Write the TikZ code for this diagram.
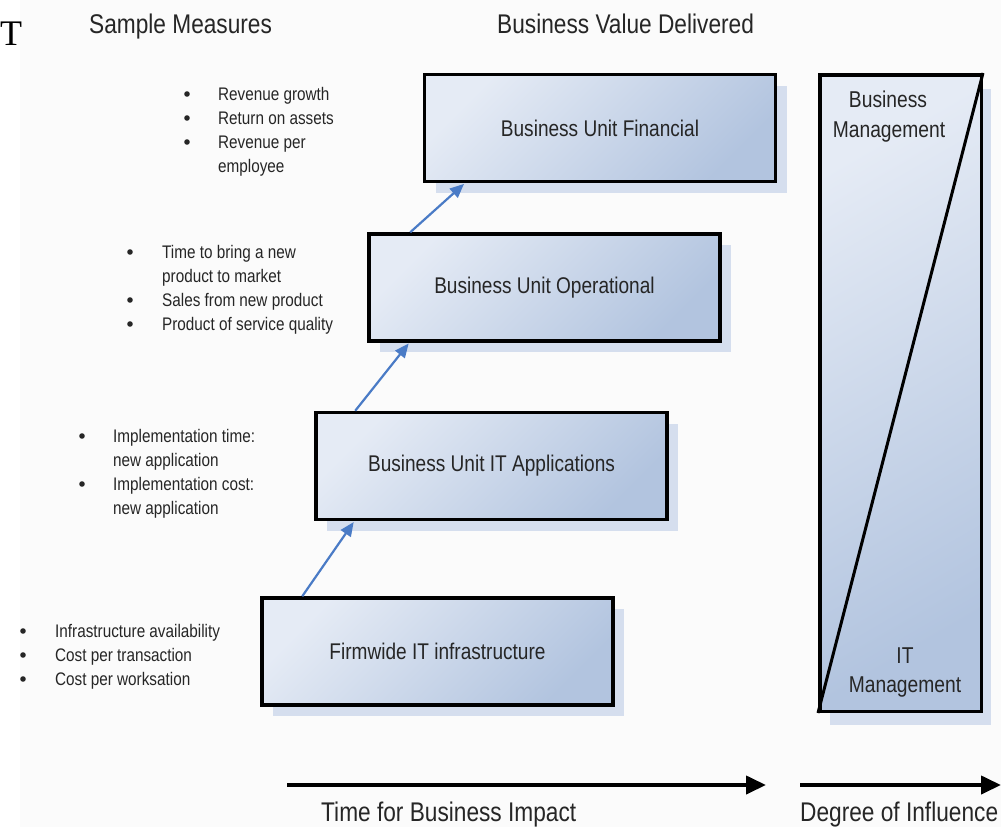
\documentclass[tikz,border=0pt]{standalone}
\usepackage{fontspec}
\setmainfont{Liberation Sans}[FakeStretch=0.84]
\newfontfamily\serifT{Liberation Serif}
\usetikzlibrary{shadows,calc,arrows.meta}
\definecolor{boxlight}{HTML}{E5EBF5}
\definecolor{boxdark}{HTML}{B2C4DF}
\definecolor{shadowcol}{HTML}{D5DEEE}
\definecolor{arrowblue}{HTML}{4A7BC6}
\definecolor{bggray}{HTML}{FBFBFB}
\definecolor{txt}{HTML}{262626}
\begin{document}
\begin{tikzpicture}[x=1pt,y=-1pt,
  stagebox/.style={draw=black, line width=3.5pt, minimum width=351pt, minimum height=107pt,
    inner sep=0pt, top color=boxlight, bottom color=boxdark, shading angle=45,
    drop shadow={shadow xshift=11pt, shadow yshift=-11pt, fill=shadowcol, opacity=1},
    font=\fontsize{22.7}{27}\selectfont, text=txt},
  panelbox/.style={draw=black, line width=3.5pt, minimum width=161.5pt, minimum height=636.5pt,
    inner sep=0pt, top color=boxlight, bottom color=boxdark, shading angle=30,
    drop shadow={shadow xshift=10pt, shadow yshift=-14pt, fill=shadowcol, opacity=1}},
  title/.style={anchor=base west, inner sep=0pt, font=\fontsize{27}{30}\selectfont, text=txt},
  sidelabel/.style={anchor=base, inner sep=0pt, font=\fontsize{22.9}{27}\selectfont, text=txt},
  bullettext/.style={anchor=base west, inner sep=0pt, font=\fontsize{18.2}{24}\selectfont, text=txt},
  bulletdot/.style={fill=txt},
  stagearrow/.style={draw=arrowblue, line width=2.2pt, -{Triangle[length=14pt,width=12pt]}, shorten >=1pt},
  axisarrow/.style={draw=black, line width=4pt, -{Triangle[length=20pt,width=18pt]}}
]
\useasboundingbox (0,0) rectangle (1001,827);
\fill[white] (0,0) rectangle (1001,827);
\fill[bggray] (20,0) rectangle (1001,827);

% stray glyph
\node[anchor=base west, inner sep=0pt, font=\serifT\fontsize{36}{38}\selectfont] (stray) at (0,45) {T};

% titles
\node[title] (tsample) at (89,33) {Sample Measures};
\node[title] (tvalue) at (497,33) {Business Value Delivered};

% stage boxes
\node[stagebox] (b1) at (600,128) {Business Unit Financial};
\node[stagebox] (b2) at (544.5,287.5) {Business Unit Operational};
\node[stagebox] (b3) at (491.5,466) {Business Unit IT Applications};
\node[stagebox] (b4) at (437.5,651.5) {Firmwide IT infrastructure};

% arrows between stages
\coordinate (a1s) at ($(b4.north west)+(42,0)$);
\coordinate (a1e) at ($(b3.south west)+(40,0)$);
\coordinate (a2s) at ($(b3.north west)+(41,0)$);
\coordinate (a2e) at ($(b2.south west)+(42,0)$);
\coordinate (a3s) at ($(b2.north west)+(43,0)$);
\coordinate (a3e) at ($(b1.south west)+(42,0)$);
\draw[stagearrow] (a1s) -- (a1e);
\draw[stagearrow] (a2s) -- (a2e);
\draw[stagearrow] (a3s) -- (a3e);

% influence panel
\node[panelbox] (panel) at (900.5,393) {};
\draw[black, line width=3pt] (panel.south west) -- (panel.north east);
\node[sidelabel] (bm1) at (888,107) {Business};
\node[sidelabel] (bm2) at (889,137) {Management};
\node[sidelabel] (it1) at (905,663) {IT};
\node[sidelabel] (it2) at (905,692) {Management};

% sample measures
\foreach \t [count=\i] in {Revenue growth, Return on assets, Revenue per, employee}
  \node[bullettext] (m1-\i) at (218,{76+24*\i}) {\t};
\foreach \yy in {94,118,142} \fill[bulletdot] (187,\yy) circle (2.8);

\foreach \t [count=\i] in {Time to bring a new, product to market, Sales from new product, Product of service quality}
  \node[bullettext] (m2-\i) at (162,{234+24*\i}) {\t};
\foreach \yy in {252,300,324} \fill[bulletdot] (130,\yy) circle (2.8);

\foreach \t [count=\i] in {Implementation time:, new application, Implementation cost:, new application}
  \node[bullettext] (m3-\i) at (113,{418+24*\i}) {\t};
\foreach \yy in {436,484} \fill[bulletdot] (82,\yy) circle (2.8);

\foreach \t [count=\i] in {Infrastructure availability, Cost per transaction, Cost per worksation}
  \node[bullettext] (m4-\i) at (55,{613+24*\i}) {\t};
\foreach \yy in {631,655,679} \fill[bulletdot] (23,\yy) circle (2.8);

% bottom axes
\coordinate (t0) at (287,785);
\coordinate (t1) at (766,785);
\coordinate (d0) at (800,785);
\coordinate (d1) at (1001,785);
\draw[axisarrow] (t0) -- (t1);
\draw[axisarrow] (d0) -- (d1);
\node[title] (ttime) at (321,821) {Time for Business Impact};
\node[title] (tdeg) at (800,821) {Degree of Influence};
\end{tikzpicture}
\end{document}
